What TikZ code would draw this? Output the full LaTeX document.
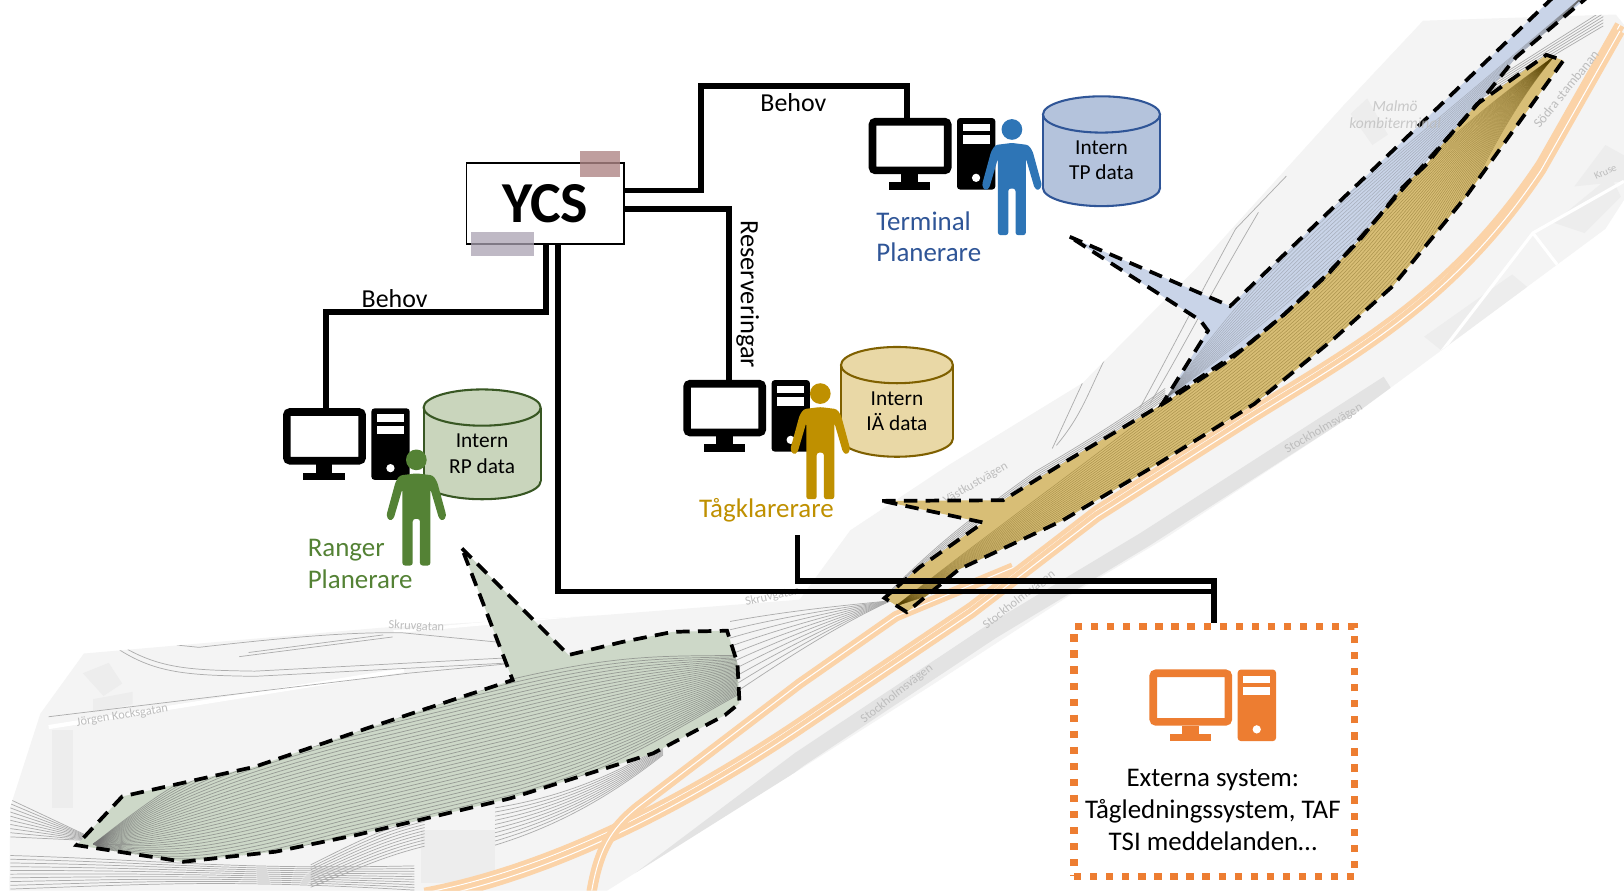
\documentclass[tikz,border=0pt]{standalone}
\usepackage{amsmath,amsthm,amssymb}
\usepackage{fontspec}
\setmainfont{Carlito}
\usepackage{tikz}
\definecolor{mapgrey}{HTML}{F4F4F4}
\definecolor{plotgrey}{HTML}{EDEDED}
\definecolor{roadgrey}{HTML}{E3E3E3}
\definecolor{railgrey}{HTML}{ADADAD}
\definecolor{mapink}{HTML}{BDBDBD}
\definecolor{peach}{HTML}{FBD3A8}
\definecolor{rangergreen}{HTML}{548235}
\definecolor{terminalblue}{HTML}{2E75B6}
\definecolor{terminalink}{HTML}{2F5597}
\definecolor{klarergold}{HTML}{BF9000}
\definecolor{extorange}{HTML}{ED7D31}
\definecolor{drumgreen}{HTML}{C9D5BC}
\definecolor{drumblue}{HTML}{B4C3DC}
\definecolor{drumgold}{HTML}{E9D8A6}
\definecolor{linegreen}{HTML}{385723}
\definecolor{linegold}{HTML}{7F6000}
\definecolor{zonegreen}{HTML}{CDD8C8}
\definecolor{zoneblue}{HTML}{C9D4E8}
\definecolor{zonegold}{HTML}{D8BE76}
\tikzset{
wire/.style={line width=5.5pt,line cap=butt,line join=miter},
rail/.style={draw=railgrey,line width=0.7pt},
road/.style={draw=peach,line width=10pt},
roadline/.style={draw=white,line width=1pt},
zone/.style={draw=black,line width=3.6pt,dash pattern=on 13pt off 8pt,line join=miter},
screen/.style={rectangle,rounded corners=3pt,line width=7.4pt,fill=white,minimum width=72.6pt,minimum height=47pt,inner sep=0pt},
word/.style={font=\fontsize{26}{30.5}\selectfont,inner sep=0pt},
small/.style={font=\fontsize{20.6}{24.5}\selectfont,align=center,inner sep=0pt},
maptext/.style={font=\fontsize{12}{14}\selectfont,text=mapink,inner sep=0pt},
}
\newcommand{\workstation}[4]{
\node[screen,draw=#4] (#1) at ({#2+39.7},{#3+27}) {};
\begin{scope}[shift={(#2,#3)}]
\fill[#4] (31.4,54) rectangle (47.4,62);
\fill[#4] (19.4,62) rectangle (59.4,69);
\fill[#4,rounded corners=3pt] (85,0) rectangle (122,69);
\fill[white] (90.4,5.7) rectangle (116.4,12.7);
\fill[white] (90.4,16.7) rectangle (116.4,24.7);
\fill[white] (103.4,57.7) circle (4pt);
\end{scope}}
\newcommand{\datadrum}[7]{
\begin{scope}[shift={(#2,#3)},line width=2pt]
\draw[draw=#6,fill=#5] (0,88.5) ellipse (#7pt and 17.5pt);
\fill[#5] (-#7,17.5) rectangle (#7,88.5);
\draw[draw=#6] (-#7,17.5) -- (-#7,88.5) (#7,17.5) -- (#7,88.5);
\draw[draw=#6,fill=#5] (0,17.5) ellipse (#7pt and 17.5pt);
\node[small] (#1) at (0,62) {Intern\\#4};
\end{scope}}
\newcommand{\person}[3]{
\begin{scope}[shift={(#1,#2)}]
\fill[#3] (0,0) circle (10pt);
\fill[#3,rounded corners=2.5pt] (0,13) -- (-16,15) -- (-20,21) -- (-29,54) -- (-26,59) -- (-22,57) -- (-13.5,28) -- (-13.5,102) -- (-3.5,102) -- (-3.5,57) -- (3.5,57) -- (3.5,102) -- (13.5,102) -- (13.5,28) -- (22,57) -- (26,59) -- (29,54) -- (20,21) -- (16,15) -- cycle;
\end{scope}}
\newcommand{\mapband}{(9,860) -- (10,779) -- (39,689) -- (81,631) -- (369,606) -- (581,594) -- (772,579) -- (821,512) -- (916,449) -- (1045,370) -- (1154,260) -- (1297,102) -- (1374,20) -- (1560,14) -- (1568,24) -- (1568,193) -- (1550,221) -- (1369,355) -- (1316,394) -- (1123,521) -- (1031,576) -- (902,660) -- (772,743) -- (586,860) -- cycle}
\newcommand{\rangerzone}{(446,529.5) -- (549,632.4) -- (600,620) -- (650,610) -- (702,609) -- (712,640.5) -- (714,679) -- (700,690.4) -- (630.5,727.4) -- (492.6,770.8) -- (345,806) -- (266,822.3) -- (177,832) -- (74,816) -- (118,769) -- (246,740.3) -- (355,703) -- (495,656.6) -- cycle}
\newcommand{\klarerzone}{(851.7,483.6) -- (968.5,483) -- (1030,445) -- (1126,388) -- (1188,347) -- (1240,303.5) -- (1278,268) -- (1312,232.6) -- (1354,181) -- (1378,158) -- (1397,134) -- (1426,100.5) -- (1493,53) -- (1509.5,58.3) -- (1416,189) -- (1345,276) -- (1288,327) -- (1211,390) -- (1116,449) -- (1025.7,502.6) -- (925.6,549.9) -- (875.5,591) -- (854,577.4) -- (887.4,548) -- (949.4,504.5) -- cycle}
\newcommand{\terminalzone}{(1032.8,228.6) -- (1187.7,295.6) -- (1500,-3) -- (1533,-3) -- (1464,55) -- (1435,91) -- (1369,165.5) -- (1321,221) -- (1283,264) -- (1240,303.5) -- (1197,339) -- (1123.4,388) -- (1166.3,319.3) -- (1159,309.4) -- cycle}

\begin{document}
\begin{tikzpicture}[x=1pt,y=-1pt]
\clip (0,0) rectangle (1568,863);
\fill[white] (0,0) rectangle (1568,863);
\begin{scope}
\clip \mapband;
\fill[mapgrey] (0,0) rectangle (1568,863);
\fill[plotgrey] (406,801) rectangle (478,853);
\fill[plotgrey] (80,650) -- (105,640) -- (118,660) -- (100,672) -- cycle;
\fill[plotgrey] (90,675) -- (128,668) -- (128,680) -- (90,688) -- cycle;
\fill[plotgrey] (50,705) rectangle (70,780);
\fill[plotgrey] (1375,325) -- (1460,265) -- (1490,290) -- (1400,345) -- cycle;
\fill[plotgrey] (1500,215) -- (1555,170) -- (1565,190) -- (1530,225) -- cycle;
\fill[plotgrey] (1520,180) -- (1550,140) -- (1568,150) -- (1568,175) -- cycle;
\fill[plotgrey] (1304,110) -- (1320,95) -- (1340,130) -- (1325,140) -- cycle;
\draw[white,line width=4pt] (47,702) -- (390,647);
\draw[white,line width=3pt] (380,610) -- (770,575);
\draw[white,line width=3pt] (1380,355) -- (1480,225) -- (1568,175);
\draw[white,line width=3pt] (1480,225) -- (1530,290);
\draw[roadgrey,line width=15pt] (590,870) -- (772,733) -- (957,610) -- (1105,521) -- (1340,370);
\foreach \k in {0,6} {
\draw[road] (410,{862+\k}) .. controls (500,{845+\k}) and (620,{800+\k}) .. (772,{698+\k}) -- (938,{586+\k}) -- (1059,{493+\k}) -- (1202,{402+\k}) .. controls (1300,{340+\k}) and (1400,{290+\k}) .. (1488,{158+\k}) -- (1564,{24+\k});
\draw[roadline] (410,{862+\k}) .. controls (500,{845+\k}) and (620,{800+\k}) .. (772,{698+\k}) -- (938,{586+\k}) -- (1059,{493+\k}) -- (1202,{402+\k}) .. controls (1300,{340+\k}) and (1400,{290+\k}) .. (1488,{158+\k}) -- (1564,{24+\k});
}
\draw[road] (571,862) .. controls (578,820) and (590,800) .. (616,779) -- (772,660) -- (865,595) -- (978,548);
\draw[roadline] (571,862) .. controls (578,820) and (590,800) .. (616,779) -- (772,660) -- (865,595) -- (978,548);
\foreach \k in {0,...,9} {
\draw[rail] (705,{600+\k*8}) .. controls (760,{590+\k*5}) and (810,{585+\k*2}) .. (860,580);
\draw[rail] (478,{780+\k*4}) .. controls (540,{770+\k*3}) and (590,{750+\k*2}) .. (640,{720+\k});
\draw[rail] (10,{772+\k*4}) -- (95,812);
\draw[rail] (10,{826+\k*3.6}) .. controls (150,{830+\k*2.6}) and (220,{840+\k}) .. (400,{836+\k*2.6});
\draw[rail] (300,{835+\k*2.4}) .. controls (350,{810+\k*3}) and (370,{800+\k*3}) .. (410,{790+\k*3});
}
\foreach \k in {0,...,5} {
\draw[rail] (855,{575+\k}) .. controls (900,{530+\k*2}) and (930,{505+\k*2}) .. (1000,{455+\k*2});
\draw[rail] (1000,{455+\k*2}) .. controls (1060,{420+\k*2}) and (1090,{400+\k*2}) .. (1125,{375+\k*2});
\draw[rail] (1430,{85+\k*2}) -- (1548,{10+\k*3});
}
\draw[rail] (113,626) .. controls (150,650) and (180,652) .. (246,653) -- (493,640);
\draw[rail] (118,624) .. controls (155,646) and (185,647) .. (246,648) -- (493,635);
\draw[rail] (153,621) -- (192,625) .. controls (280,615) and (340,610) .. (389,611) -- (542,626);
\draw[rail] (231,634) -- (379,615);
\draw[rail] (240,630) -- (370,613);
\draw[rail] (47,692) -- (394,650) -- (500,640);
\draw[rail] (1016,433) -- (1045,370);
\draw[rail] (1100,395) .. controls (1130,340) and (1150,300) .. (1193,221) -- (1242,170);
\draw[rail] (1110,390) .. controls (1140,340) and (1165,290) .. (1215,205);
\draw[rail] (1020,430) .. controls (1045,400) and (1050,380) .. (1070,340);
\end{scope}
\node[maptext,rotate=9] (jorgen) at (118,691) {Jörgen Kocksgatan};
\node[maptext,rotate=-3] (skruvwest) at (402,605) {Skruvgatan};
\node[maptext,rotate=12] (skruveast) at (746,576) {Skruvgatan};
\node[maptext,rotate=38] (stockholma) at (866,670) {Stockholmsvägen};
\node[maptext,rotate=38] (stockholmb) at (984,579) {Stockholmsvägen};
\node[maptext,rotate=30] (stockholmc) at (1278,414) {Stockholmsvägen};
\node[maptext,rotate=30] (vastkust) at (942,467) {Västkustvägen};
\node[maptext,rotate=51,font=\fontsize{13}{15}\selectfont] (sodra) at (1512,86) {Södra stambanan};
\node[maptext,rotate=25,font=\fontsize{10}{12}\selectfont] (kruse) at (1550,166) {Kruse};
\fill[zonegreen] \rangerzone;
\begin{scope}
\clip \rangerzone;
\foreach \k in {-16,...,16} \draw[draw=black!55,line width=0.7pt,opacity=.6] (90,815) .. controls (170,{800+3*\k}) and (210,{785+3.6*\k}) .. (330,{753+3.6*\k}) -- (500,{712+3.6*\k}) .. controls (600,{686+3.4*\k}) and (640,{672+2.4*\k}) .. (712,{652+1.2*\k});
\end{scope}
\fill[zoneblue] \terminalzone;
\begin{scope}
\clip \terminalzone;
\foreach \k in {-7,...,7} \draw[draw=black!60,line width=0.5pt,opacity=.35] (1125,385) .. controls ({1190+1.5*\k},{320+1.5*\k}) and ({1240+2*\k},{270+2*\k}) .. ({1300+2*\k},{215+2*\k}) -- (1530,-5);
\end{scope}
\fill[zonegold] \klarerzone;
\begin{scope}
\clip \klarerzone;
\foreach \k in {-16,...,16} \draw[draw=black!55!klarergold,line width=0.5pt,opacity=.35] (865,585) .. controls ({1050+1.8*\k},{490+1.8*\k}) and ({1250+1.8*\k},{360+1.8*\k}) .. ({1350+1.8*\k},{235+1.8*\k}) .. controls ({1400+1.2*\k},{170+1.2*\k}) and ({1440+.5*\k},{110+.5*\k}) .. (1500,55);
\end{scope}
\draw[zone] \rangerzone;
\draw[zone] \terminalzone;
\draw[zone] \klarerzone;
\node[maptext,font=\itshape\fontsize{15}{16.5}\selectfont,align=center,opacity=.8] (malmo) at (1347,111) {Malmö\\kombiterminal};
\node[rectangle,draw=black,line width=1.5pt,fill=white,minimum width=152pt,minimum height=78pt,inner sep=0pt,font=\bfseries\fontsize{56}{60}\selectfont] (ycs) at (526.5,196.5) {\raisebox{-4pt}{YCS}};
\fill[fill={rgb,255:red,176;green,134;blue,134},opacity=.8] (560,146) rectangle (599,171);
\fill[fill={rgb,255:red,170;green,162;blue,178},opacity=.75] (455,224) rectangle (516,247);
\workstation{tpscreen}{839}{114}{black}
\workstation{iascreen}{660}{367}{black}
\workstation{rpscreen}{273.6}{394.3}{black}
\workstation{extscreen}{1110}{646.5}{extorange}
\datadrum{tpdata}{1063.5}{93}{TP data}{drumblue}{terminalink}{56.5}
\datadrum{iadata}{866}{335}{IÄ data}{drumgold}{linegold}{54}
\datadrum{rpdata}{465.5}{376}{RP data}{drumgreen}{linegreen}{56.5}
\person{977}{125}{terminalblue}
\person{792}{380}{klarergold}
\person{402}{444}{rangergreen}
\node[rectangle,draw=extorange,line width=7pt,dash pattern=on 7pt off 8.5pt,minimum width=271pt,minimum height=241pt,inner sep=0pt] (extbox) at (1172.5,725.5) {};
\coordinate (klarerstart) at (770,517);
\draw[wire] (ycs.east |- 0,184) -- (677,184) -- (677,83) -- (876,83) -- (tpscreen.north -| 876,0);
\draw[wire] (ycs.east |- 0,202) -- (704,202) -- (iascreen.north -| 704,0);
\draw[wire] (ycs.south -| 527,0) -- (527,301) -- (315,301) -- (rpscreen.north -| 315,0);
\draw[wire] (ycs.south -| 539,0) -- (539,571) -- (1172,571) -- (extbox.north -| 1172,0);
\draw[wire] (klarerstart) -- (770,561) -- (1172,561) -- (1172,571);
\node[word,font=\fontsize{25}{30}\selectfont] (behovtp) at (766,99) {Behov};
\node[word,font=\fontsize{25}{30}\selectfont] (behovrp) at (381,288) {Behov};
\node[word,rotate=-90,font=\fontsize{25.5}{30}\selectfont] (reserv) at (722,284) {Reserveringar};
\node[word,text=terminalink,anchor=west,align=left] (tplabel) at (846,228.5) {Terminal\\Planerare};
\node[word,text=rangergreen,anchor=west,align=left] (rplabel) at (297,544.5) {Ranger\\Planerare};
\node[word,text=klarergold] (ialabel) at (740,493) {Tågklarerare};
\node[word,align=center] (extlabel) at (1171,782) {Externa system:\\Tågledningssystem, TAF\\TSI meddelanden…};
\end{tikzpicture}
\end{document}
